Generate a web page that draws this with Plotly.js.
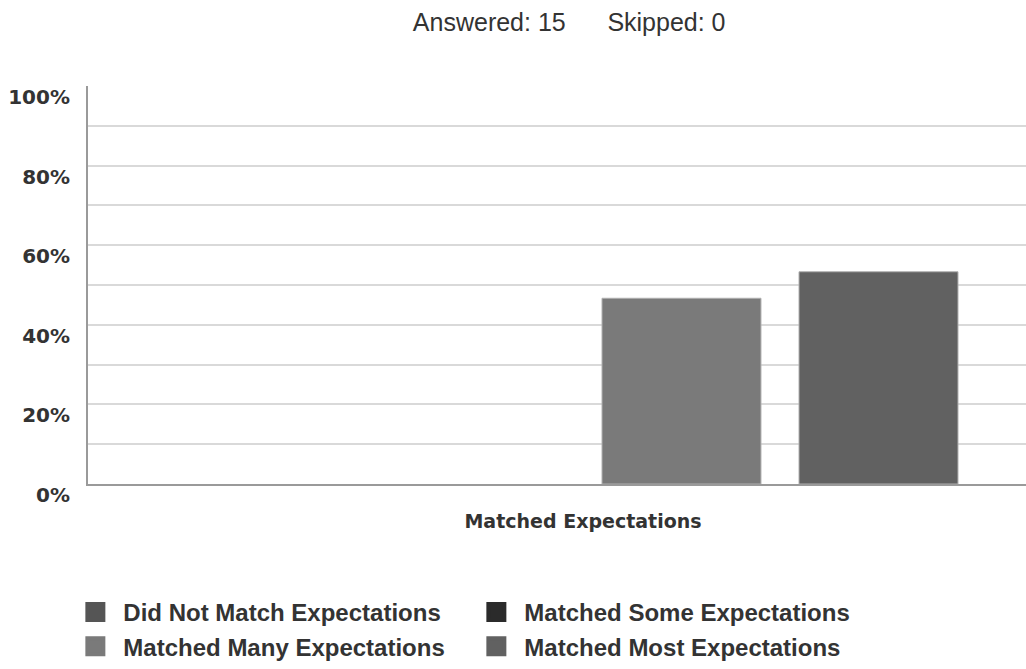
<!DOCTYPE html>
<html>
<head>
<meta charset="utf-8">
<script src="https://cdn.plot.ly/plotly-3.0.1.min.js"></script>
<style>html,body{margin:0;padding:0;background:#fff;overflow:hidden}#chart{width:1026px;height:669px}</style>
</head>
<body>
<div id="chart"></div>
<script>
// Data
const categories = ["Matched Expectations"];
const seriesNames = ["Did Not Match Expectations", "Matched Some Expectations", "Matched Many Expectations", "Matched Most Expectations"];
const didNotMatch = [0];
const matchedSome = [0];
const matchedMany = [46.67];
const matchedMost = [53.33];
const seriesValues = [didNotMatch, matchedSome, matchedMany, matchedMost];
const seriesColors = ["#555555", "#2b2b2b", "#7a7a7a", "#616161"];
const tickValues = [0, 10, 20, 30, 40, 50, 60, 70, 80, 90, 100];
const tickLabels = ["0%", "", "20%", "", "40%", "", "60%", "", "80%", "", "100%"];
const titleText = "Answered: 15\u00a0\u00a0\u00a0\u00a0\u00a0\u00a0Skipped: 0";

const traces = [];
seriesNames.forEach((name, i) => {
  traces.push({
    type: "bar",
    name: name,
    x: categories,
    y: seriesValues[i],
    marker: {color: seriesColors[i], line: {color: "#b0b0b0", width: seriesValues[i].map(v => v > 0 ? 1 : 0)}},
    showlegend: false,
    hoverinfo: "skip"
  });
});
// legend entries (square swatches)
seriesNames.forEach((name, i) => {
  traces.push({
    type: "scatter",
    mode: "markers",
    name: name,
    x: [null],
    y: [null],
    marker: {symbol: "square", size: 16, color: seriesColors[i], line: {color: seriesColors[i], width: 4}},
    showlegend: true,
    hoverinfo: "skip"
  });
});

const layout = {
  width: 1026,
  height: 669,
  margin: {l: 88, r: 0, t: 86, b: 185},
  paper_bgcolor: "#ffffff",
  plot_bgcolor: "#ffffff",
  barmode: "group",
  bargap: 0.204,
  bargroupgap: 0.193,
  showlegend: true,
  title: {
    text: titleText,
    font: {family: "Liberation Sans, Arial, sans-serif", size: 25, color: "#333333"},
    x: 0.513, xanchor: "center", xref: "paper",
    y: 0.966, yanchor: "middle", yref: "container"
  },
  xaxis: {
    type: "category",
    range: [-0.5, 0.4475],
    showgrid: false,
    showline: true,
    linecolor: "#9a9a9a",
    linewidth: 2,
    ticks: "",
    ticklabelstandoff: 19,
    tickfont: {family: "DejaVu Sans, sans-serif", size: 19, color: "#333333", weight: "bold"},
    fixedrange: true
  },
  yaxis: {
    range: [0, 100],
    tickmode: "array",
    tickvals: tickValues,
    ticktext: tickLabels,
    showgrid: true,
    gridcolor: "#d9d9d9",
    gridwidth: 2,
    showline: true,
    linecolor: "#9a9a9a",
    linewidth: 2,
    zeroline: false,
    ticks: "",
    ticklabelstandoff: 12,
    ticklabelshift: 11,
    tickfont: {family: "DejaVu Sans, sans-serif", size: 20, color: "#333333", weight: "bold"},
    fixedrange: true
  },
  legend: {
    orientation: "h",
    x: -0.022, xanchor: "left",
    y: -0.267, yanchor: "top",
    entrywidth: 340,
    entrywidthmode: "pixels",
    itemwidth: 46,
    font: {family: "Liberation Sans, Arial, sans-serif", size: 24, color: "#333333", weight: "bold"},
    bgcolor: "rgba(0,0,0,0)"
  }
};

Plotly.newPlot("chart", traces, layout, {displayModeBar: false, staticPlot: true});
</script>
</body>
</html>
